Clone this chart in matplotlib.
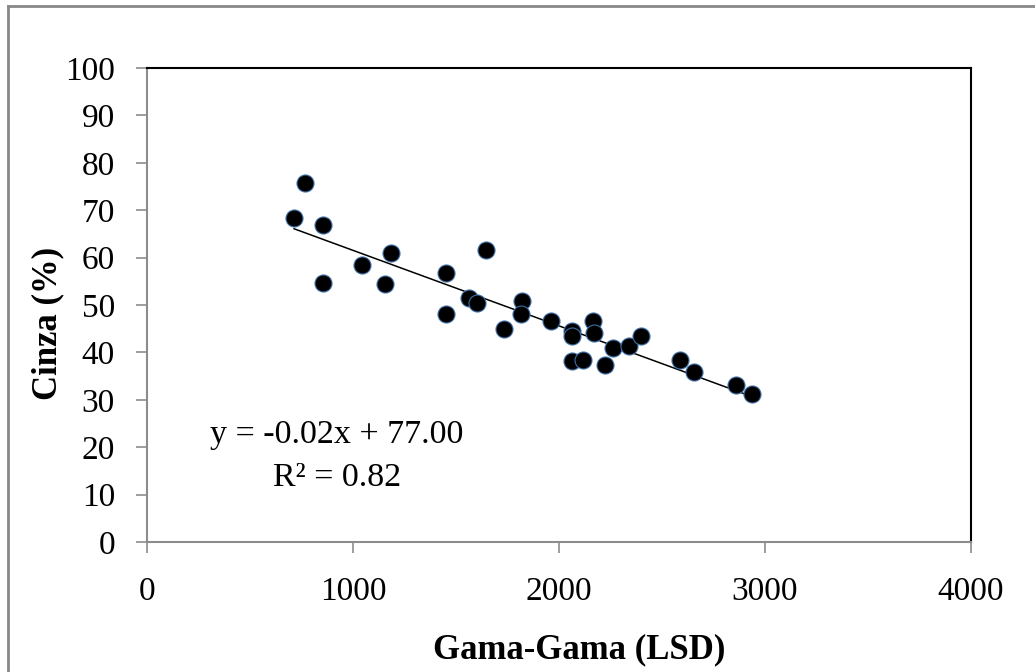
import numpy as np
import matplotlib.pyplot as plt
from matplotlib.lines import Line2D

plt.rcParams['font.family'] = ['Liberation Serif', 'DejaVu Serif']

# data
gama = [714, 769, 853, 853, 1042, 1185, 1154, 1451, 1453, 1645, 1561, 1603,
        1733, 1820, 1815, 1962, 2064, 2064, 2167, 2169, 2264, 2340, 2398,
        2062, 2116, 2224, 2588, 2655, 2861, 2935]
cinza = [68.3, 75.8, 66.9, 54.7, 58.4, 61.0, 54.4, 56.8, 48.0, 61.6, 51.5, 50.4,
         44.9, 50.8, 48.1, 46.6, 44.6, 43.5, 46.6, 44.0, 40.9, 41.4, 43.4,
         38.1, 38.4, 37.3, 38.4, 35.9, 33.2, 31.3]
x_ticks = [0, 1000, 2000, 3000, 4000]
y_ticks = [0, 10, 20, 30, 40, 50, 60, 70, 80, 90, 100]
linha1 = "y = -0.02x + 77.00"
linha2 = "R² = 0.82"

fig = plt.figure(figsize=(10.35, 6.72), dpi=100)
ax = fig.add_axes([147 / 1035, 1 - 542 / 672, 824 / 1035, 474 / 672])

# linha de tendencia (regressao linear)
a, b = np.polyfit(gama, cinza, 1)
xs = np.array([min(gama), max(gama)])
ax.plot(xs, a * xs + b, color='black', lw=1.1, zorder=2)

ax.scatter(gama, cinza, s=150, color='black', edgecolors='#3d6fa8',
           linewidths=0.8, zorder=3)

ax.set_xlim(0, 4000)
ax.set_ylim(0, 100)
ax.set_xticks(x_ticks)
ax.set_yticks(y_ticks)
ax.tick_params(direction='out', length=8, width=1.2, color='#8c8c8c',
               labelsize=24, pad=15)
ax.tick_params(axis='x', pad=17)

for s in ['left', 'bottom']:
    ax.spines[s].set_color('#8c8c8c')
    ax.spines[s].set_linewidth(1.5)
for s in ['top', 'right']:
    ax.spines[s].set_color('black')
    ax.spines[s].set_linewidth(1.5)

ax.set_xlabel('Gama-Gama (LSD)', fontsize=25, fontweight='bold')
ax.set_ylabel('Cinza (%)', fontsize=25, fontweight='bold')
# posicao dos titulos como no original (um pouco fora do centro)
ax.xaxis.set_label_coords(0.524, -0.228)
ax.yaxis.set_label_coords(-0.120, 0.462)
ax.xaxis.label.set_va('center')
ax.yaxis.label.set_va('center')

ax.text(921, 22.6, linha1, fontsize=24.5, ha='center', va='center')
ax.text(921, 13.6, linha2, fontsize=24.5, ha='center', va='center')

# moldura do grafico (so esquerda e topo visiveis)
fig.add_artist(Line2D([8 / 1035, 8 / 1035], [0, 1 - 6 / 672],
                      transform=fig.transFigure, color='#888888', lw=2))
fig.add_artist(Line2D([8 / 1035, 1], [1 - 6 / 672, 1 - 6 / 672],
                      transform=fig.transFigure, color='#888888', lw=2))

fig.savefig('out.png', dpi=100)
